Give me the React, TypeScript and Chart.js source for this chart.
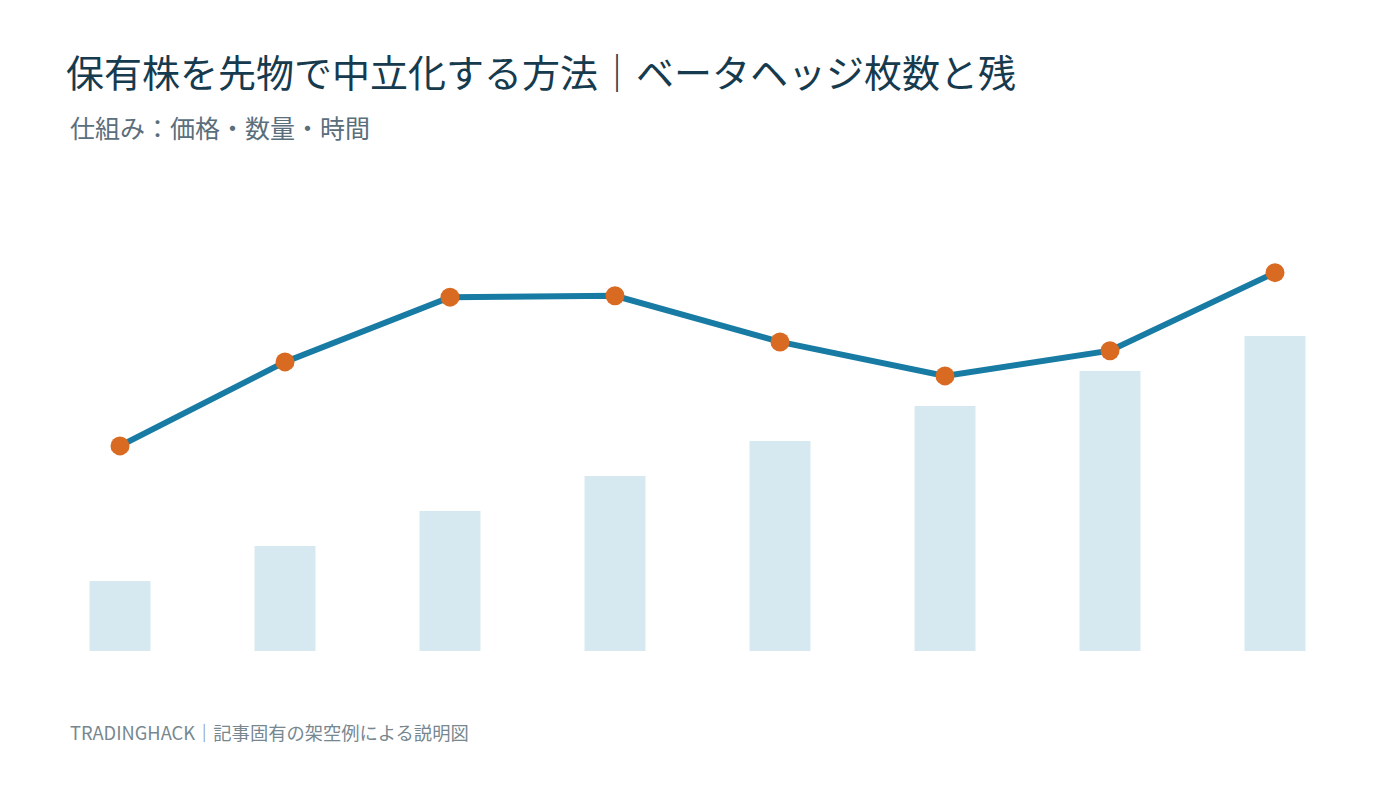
import React, { useEffect, useRef } from "react";
import { Chart, registerables } from "chart.js";

Chart.register(...registerables);

const categories = ["1", "2", "3", "4", "5", "6", "7", "8"];
const hedgeContracts = [2, 3, 4, 5, 6, 7, 8, 9];
const residualLine = [5.86, 8.26, 10.11, 10.15, 8.83, 7.86, 8.58, 10.81];

const TITLE = "保有株を先物で中立化する方法｜ベータヘッジ枚数と残";
const SUBTITLE = "仕組み：価格・数量・時間";
const FOOTER = "TRADINGHACK｜記事固有の架空例による説明図";

const FONT = '"Noto Sans CJK JP", "Noto Sans", sans-serif';

export default function App() {
  const canvasRef = useRef<HTMLCanvasElement | null>(null);

  useEffect(() => {
    if (!canvasRef.current) return;
    const chart = new Chart(canvasRef.current, {
      data: {
        labels: categories,
        datasets: [
          {
            type: "line",
            label: "残",
            data: residualLine,
            borderColor: "#177ba3",
            borderWidth: 6,
            pointRadius: 9.5,
            pointBackgroundColor: "#d86a21",
            pointBorderWidth: 0,
            pointBorderColor: "#d86a21",
            tension: 0,
            order: 0,
          },
          {
            type: "bar",
            label: "枚数",
            data: hedgeContracts,
            backgroundColor: "#d7e9f0",
            borderWidth: 0,
            categoryPercentage: 1,
            barPercentage: 61 / 165,
            order: 1,
          },
        ],
      },
      options: {
        animation: false,
        responsive: false,
        maintainAspectRatio: false,
        layout: { padding: { left: 37.5, right: 42.5, top: 46, bottom: 19 } },
        plugins: {
          legend: { display: false },
          tooltip: { enabled: false },
          title: { display: false },
        },
        scales: {
          x: { type: "category", display: false, offset: true, grid: { display: false } },
          y: { display: false, min: 0, max: 13, grid: { display: false } },
        },
      },
    });
    return () => chart.destroy();
  }, []);

  return (
    <div
      style={{
        position: "fixed",
        left: 0,
        top: 0,
        width: 1400,
        height: 788,
        background: "#ffffff",
        overflow: "hidden",
        fontFamily: FONT,
      }}
    >
      <div
        style={{
          position: "absolute",
          left: 66,
          top: 47,
          fontSize: 38,
          lineHeight: "48px",
          color: "#163a4e",
          whiteSpace: "nowrap",
        }}
      >
        {TITLE}
      </div>
      <div
        style={{
          position: "absolute",
          left: 70,
          top: 112,
          fontSize: 25,
          lineHeight: "30px",
          color: "#5a6e7b",
          whiteSpace: "nowrap",
        }}
      >
        {SUBTITLE}
      </div>
      <canvas
        ref={canvasRef}
        width={1400}
        height={520}
        style={{ position: "absolute", left: 0, top: 150, width: 1400, height: 520 }}
      />
      <div
        style={{
          position: "absolute",
          left: 70,
          top: 720,
          fontSize: 18.3,
          lineHeight: "24px",
          color: "#77878f",
          whiteSpace: "nowrap",
        }}
      >
        {FOOTER}
      </div>
    </div>
  );
}
